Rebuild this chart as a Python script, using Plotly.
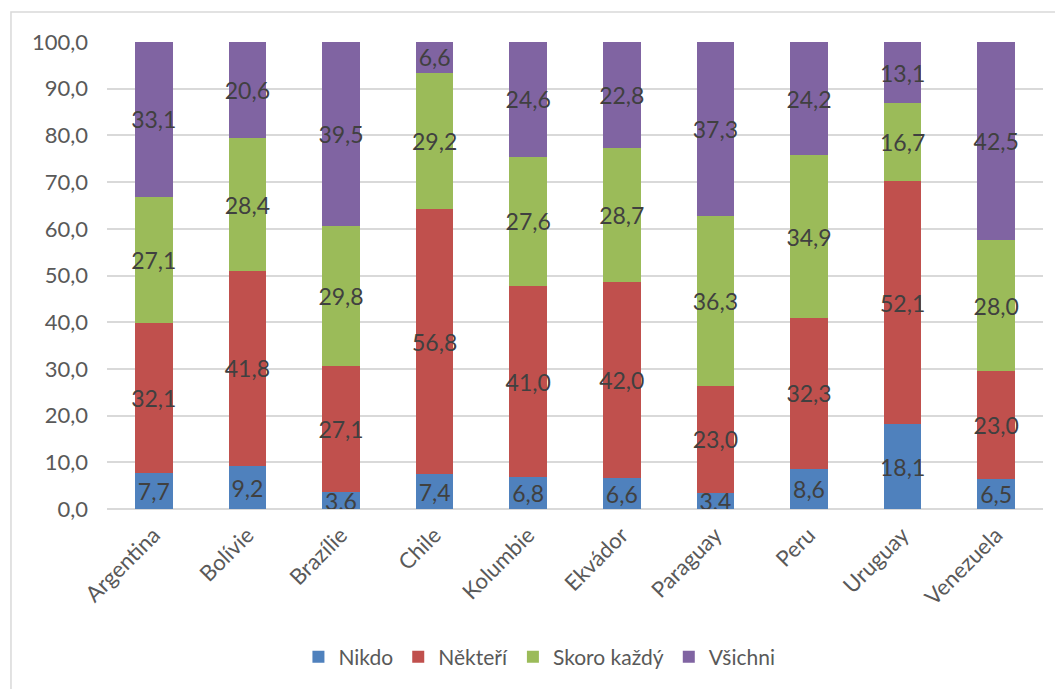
import plotly.graph_objects as go

countries = ["Argentina", "Bolívie", "Brazílie", "Chile", "Kolumbie", "Ekvádor",
             "Paraguay", "Peru", "Uruguay", "Venezuela"]
nikdo = [7.7, 9.2, 3.6, 7.4, 6.8, 6.6, 3.4, 8.6, 18.1, 6.5]
nekteri = [32.1, 41.8, 27.1, 56.8, 41.0, 42.0, 23.0, 32.3, 52.1, 23.0]
skoro = [27.1, 28.4, 29.8, 29.2, 27.6, 28.7, 36.3, 34.9, 16.7, 28.0]
vsichni = [33.1, 20.6, 39.5, 6.6, 24.6, 22.8, 37.3, 24.2, 13.1, 42.5]

series = [
    ("Nikdo", nikdo, "#4F81BD"),
    ("Někteří", nekteri, "#C0504D"),
    ("Skoro každý", skoro, "#9BBB59"),
    ("Všichni", vsichni, "#8064A2"),
]

FONT = "Lato"
fig = go.Figure()
for name, vals, col in series:
    fig.add_trace(go.Bar(
        x=countries, y=vals, name=name,
        marker=dict(color=col, line=dict(width=0)),
        texttemplate="%{y:.1f}", textposition="inside", insidetextanchor="middle",
        textangle=0, constraintext="none",
        textfont=dict(family=FONT, size=23, color="#404040"),
    ))

fig.update_layout(
    barmode="stack", bargap=0.6,
    width=1055, height=681,
    margin=dict(l=99, r=20, t=34, b=180),
    paper_bgcolor="white", plot_bgcolor="white",
    separators=", ",
    uniformtext=dict(minsize=23, mode="show"),
    font=dict(family=FONT, size=21, color="#595959"),
    legend=dict(orientation="h", x=0.462, xanchor="center", y=-0.317, yanchor="middle",
                font=dict(family=FONT, size=21, color="#595959"), traceorder="normal",
                itemwidth=30),
    xaxis=dict(tickangle=-45, tickfont=dict(family=FONT, size=22, color="#595959"),
               showline=False, ticks="", ticklabelstandoff=8),
    yaxis=dict(range=[0, 100], dtick=10, tickformat=".1f",
               tickfont=dict(family=FONT, size=22, color="#595959"),
               gridcolor="#D9D9D9", gridwidth=1.5, zeroline=True, zerolinecolor="#D9D9D9",
               zerolinewidth=1.5, ticks="", ticklabelstandoff=18),
    shapes=[dict(type="rect", xref="paper", yref="paper",
                 x0=-0.1026, x1=1.2, y0=-0.6, y1=1.064,
                 line=dict(color="#D9D9D9", width=1.5), layer="below")],
)

fig.write_html("out.html")
